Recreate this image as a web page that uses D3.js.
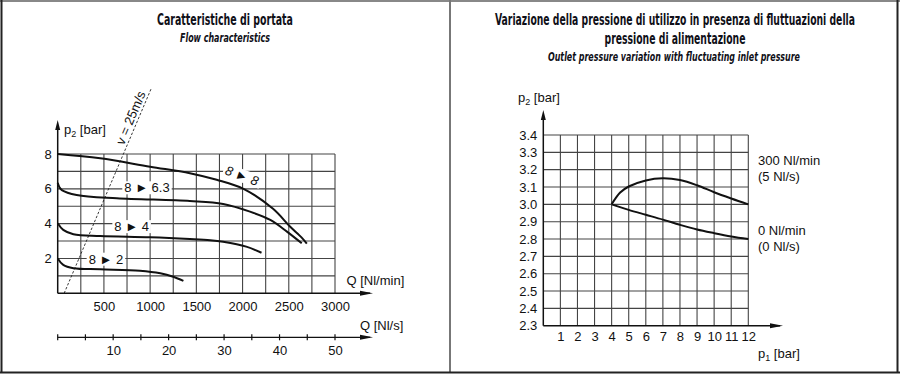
<!DOCTYPE html>
<html>
<head>
<meta charset="utf-8">
<script src="https://cdn.jsdelivr.net/npm/d3@7"></script>
<style>
  html, body { margin: 0; padding: 0; background: #fff; }
  svg { display: block; }
  .lbl { font-family: "Liberation Sans", Arial, sans-serif; font-size: 13px; fill: #111; }
  .ttl { font-family: "Liberation Sans Narrow", "DejaVu Sans Condensed", sans-serif; fill: #101018; }
</style>
</head>
<body>
<div id="chart"></div>
<script>
const width = 900;
const height = 374;

// ---- left chart: flow characteristics (Q in Nl/min, p2 in bar) ----
const flowQTicks = [500, 1000, 1500, 2000, 2500, 3000];
const flowPTicks = [2, 4, 6, 8];
const flowSecTicks = [10, 20, 30, 40, 50];

const q88 = [0, 460, 1000, 1430, 1720, 2010, 2330, 2510, 2640, 2695];
const p88 = [8, 7.75, 7.27, 6.9, 6.52, 6.0, 4.85, 3.85, 3.2, 2.85];

const q863 = [0, 20, 45, 205, 640, 1430, 1790, 2080, 2300, 2480, 2640];
const p863 = [6.35, 6.08, 5.93, 5.65, 5.46, 5.3, 5.13, 4.69, 4.21, 3.54, 2.87];

const q84 = [0, 60, 170, 460, 1000, 1430, 1650, 1790, 2040, 2205];
const p84 = [4.02, 3.64, 3.39, 3.29, 3.22, 3.12, 3.05, 2.96, 2.68, 2.33];

const q82 = [0, 60, 170, 460, 890, 1110, 1250, 1360];
const p82 = [2.0, 1.63, 1.44, 1.38, 1.3, 1.15, 0.95, 0.71];

const vLineQ = [70, 1015];
const vLineP = [0, 11.8];

// ---- right chart: outlet pressure vs inlet pressure ----
const p1Ticks = [1, 2, 3, 4, 5, 6, 7, 8, 9, 10, 11, 12];
const p2Ticks = [2.3, 2.4, 2.5, 2.6, 2.7, 2.8, 2.9, 3.0, 3.1, 3.2, 3.3, 3.4];

const p1Flow300 = [4, 4.5, 5, 6, 7, 8, 9, 10, 11, 12];
const p2Flow300 = [3.0, 3.068, 3.103, 3.138, 3.15, 3.14, 3.11, 3.07, 3.034, 3.0];

const p1Flow0 = [4, 5, 6, 7, 8, 9, 10, 11, 12];
const p2Flow0 = [3.0, 2.968, 2.94, 2.912, 2.882, 2.855, 2.834, 2.815, 2.8];

const svg = d3.select("#chart").append("svg")
    .attr("width", width)
    .attr("height", height);

// panel frames
svg.append("line").attr("x1", 0).attr("x2", width).attr("y1", 1).attr("y2", 1)
    .attr("stroke", "#888").attr("stroke-width", 2);
svg.append("line").attr("x1", 1.5).attr("x2", 1.5).attr("y1", 0).attr("y2", 373)
    .attr("stroke", "#222").attr("stroke-width", 2);
svg.append("line").attr("x1", 450).attr("x2", 450).attr("y1", 0).attr("y2", 373)
    .attr("stroke", "#777").attr("stroke-width", 2);
svg.append("line").attr("x1", 897.5).attr("x2", 897.5).attr("y1", 0).attr("y2", 373)
    .attr("stroke", "#222").attr("stroke-width", 2);
svg.append("line").attr("x1", 0).attr("x2", width).attr("y1", 372.5).attr("y2", 372.5)
    .attr("stroke", "#222").attr("stroke-width", 2);

// titles
function title(x, y, txt, len, size, italic) {
    svg.append("text").attr("class", "ttl")
        .attr("x", x).attr("y", y)
        .attr("text-anchor", "middle")
        .attr("font-size", size)
        .attr("font-weight", "bold")
        .attr("font-style", italic ? "italic" : null)
        .attr("textLength", len)
        .attr("lengthAdjust", "spacingAndGlyphs")
        .text(txt);
}
title(225, 25, "Caratteristiche di portata", 136, 15.5, false);
title(225, 41.5, "Flow characteristics", 90, 12, true);
title(675, 24.5, "Variazione della pressione di utilizzo in presenza di fluttuazioni della", 360, 15.5, false);
title(675, 44, "pressione di alimentazione", 141, 15.5, false);
title(674, 61, "Outlet pressure variation with fluctuating inlet pressure", 252, 12, true);

function arrowHead(g, x, y, dir) {
    // dir: "up" or "right"
    const pts = dir === "up"
        ? [[x, y], [x - 2.5, y + 10], [x + 2.5, y + 10]]
        : [[x, y], [x - 13, y - 2.5], [x - 13, y + 2.5]];
    g.append("path").attr("d", d3.line()(pts) + "Z").attr("fill", "#111");
}

function styleTicks(g) {
    g.select(".domain").remove();
    g.selectAll("text").attr("class", "lbl").attr("font-size", null).attr("font-family", null);
}

// ================= LEFT CHART =================
const L = svg.append("g");
const xL = d3.scaleLinear().domain([0, 3000]).range([57.7, 335]);
const yL = d3.scaleLinear().domain([0, 8]).range([293.3, 154]);
const xS = d3.scaleLinear().domain([0, 50]).range([57.7, 335]);

// grid
L.append("g").selectAll("line").data(d3.range(250, 3001, 250)).join("line")
    .attr("x1", d => xL(d)).attr("x2", d => xL(d))
    .attr("y1", yL(0)).attr("y2", yL(8))
    .attr("stroke", "#444").attr("stroke-width", 1.1);
L.append("g").selectAll("line").data(d3.range(1, 9)).join("line")
    .attr("x1", xL(0)).attr("x2", xL(3000))
    .attr("y1", d => yL(d)).attr("y2", d => yL(d))
    .attr("stroke", "#444").attr("stroke-width", 1.1);

// axes lines + arrows
L.append("line").attr("x1", xL(0)).attr("x2", 370).attr("y1", yL(0)).attr("y2", yL(0))
    .attr("stroke", "#111").attr("stroke-width", 1.5);
arrowHead(L, 373, yL(0), "right");
L.append("line").attr("x1", xL(0)).attr("x2", xL(0)).attr("y1", yL(0)).attr("y2", 128)
    .attr("stroke", "#111").attr("stroke-width", 1.5);
arrowHead(L, xL(0), 120, "up");

// tick labels
L.append("g").attr("transform", `translate(0,${yL(0)})`)
    .call(d3.axisBottom(xL).tickValues(flowQTicks).tickSize(0).tickPadding(8).tickFormat(d3.format("d")))
    .call(styleTicks);
L.append("g").attr("transform", `translate(${xL(0)},0)`)
    .call(d3.axisLeft(yL).tickValues(flowPTicks).tickSize(0).tickPadding(6))
    .call(styleTicks);

// second axis Nl/s
const yS = 337.3;
L.append("line").attr("x1", xS(0)).attr("x2", 370).attr("y1", yS).attr("y2", yS)
    .attr("stroke", "#111").attr("stroke-width", 1.3);
arrowHead(L, 373, yS, "right");
L.append("g").selectAll("line").data(d3.range(0, 51, 5)).join("line")
    .attr("x1", d => xS(d)).attr("x2", d => xS(d))
    .attr("y1", yS - 3).attr("y2", yS + 3)
    .attr("stroke", "#111").attr("stroke-width", 1.2);
L.append("g").attr("transform", `translate(0,${yS})`)
    .call(d3.axisBottom(xS).tickValues(flowSecTicks).tickSize(0).tickPadding(8))
    .call(styleTicks);

// axis titles
const pLab = L.append("text").attr("class", "lbl").attr("x", 64).attr("y", 134);
pLab.append("tspan").text("p");
pLab.append("tspan").attr("font-size", 9).attr("dy", 3).text("2");
pLab.append("tspan").attr("dy", -3).text(" [bar]");
L.append("text").attr("class", "lbl").attr("x", 346.5).attr("y", 284.5).text("Q [Nl/min]");
L.append("text").attr("class", "lbl").attr("x", 360).attr("y", 329.5).text("Q [Nl/s]");

// v = 25 m/s dashed line
L.append("line")
    .attr("x1", xL(vLineQ[0])).attr("y1", yL(vLineP[0]))
    .attr("x2", xL(vLineQ[1])).attr("y2", yL(vLineP[1]))
    .attr("stroke", "#222").attr("stroke-width", 0.9).attr("stroke-dasharray", "2.5,1.8");
{
    const ang = Math.atan2(yL(vLineP[1]) - yL(vLineP[0]), xL(vLineQ[1]) - xL(vLineQ[0])) * 180 / Math.PI;
    const t = 0.84;
    const cx = xL(vLineQ[0]) + t * (xL(vLineQ[1]) - xL(vLineQ[0]));
    const cy = yL(vLineP[0]) + t * (yL(vLineP[1]) - yL(vLineP[0]));
    L.append("text").attr("class", "lbl")
        .attr("transform", `translate(${cx},${cy}) rotate(${ang})`)
        .attr("text-anchor", "middle").attr("dy", -3)
        .attr("font-size", 14)
        .text("v = 25m/s");
}

// curves
const lineL = d3.line().x(d => xL(d[0])).y(d => yL(d[1])).curve(d3.curveCatmullRom.alpha(0.5));
[[q88, p88], [q863, p863], [q84, p84], [q82, p82]].forEach(([q, p]) => {
    L.append("path").datum(q.map((v, i) => [v, p[i]]))
        .attr("d", lineL).attr("fill", "none")
        .attr("stroke", "#111").attr("stroke-width", 2);
});

// curve labels with white backgrounds
function curveLabel(q, p, txt, rot, italic) {
    const g = L.append("g").attr("transform", `translate(${xL(q)},${yL(p)}) rotate(${rot})`);
    const t = g.append("text").attr("class", "lbl")
        .attr("text-anchor", "middle").attr("dy", "0.36em")
        .attr("font-size", 14)
        .attr("font-style", italic ? "italic" : null)
        .text(txt);
    const bb = t.node().getBBox();
    g.insert("rect", "text")
        .attr("x", bb.x - 2).attr("y", bb.y + 1)
        .attr("width", bb.width + 4).attr("height", bb.height - 2)
        .attr("fill", "#fff");
}
curveLabel(966, 6.07, "8 \u25BA 6.3", 0, false);
curveLabel(800, 3.84, "8 \u25BA 4", 0, false);
curveLabel(522, 1.97, "8 \u25BA 2", 0, false);
curveLabel(1994, 6.76, "8 \u25BA 8", 20, true);

// ================= RIGHT CHART =================
const R = svg.append("g");
const xR = d3.scaleLinear().domain([0, 12]).range([543.3, 748.3]);
const yR = d3.scaleLinear().domain([2.3, 3.4]).range([325.7, 135]);

R.append("g").selectAll("line").data(p1Ticks).join("line")
    .attr("x1", d => xR(d)).attr("x2", d => xR(d))
    .attr("y1", yR(2.3)).attr("y2", yR(3.4))
    .attr("stroke", "#444").attr("stroke-width", 1.1);
R.append("g").selectAll("line").data(p2Ticks.slice(1)).join("line")
    .attr("x1", xR(0)).attr("x2", xR(12))
    .attr("y1", d => yR(d)).attr("y2", d => yR(d))
    .attr("stroke", "#444").attr("stroke-width", 1.1);

R.append("line").attr("x1", xR(0)).attr("x2", 780).attr("y1", yR(2.3)).attr("y2", yR(2.3))
    .attr("stroke", "#111").attr("stroke-width", 1.5);
arrowHead(R, 783, yR(2.3), "right");
R.append("line").attr("x1", xR(0)).attr("x2", xR(0)).attr("y1", yR(2.3)).attr("y2", 118)
    .attr("stroke", "#111").attr("stroke-width", 1.5);
arrowHead(R, xR(0), 110, "up");

R.append("g").attr("transform", `translate(0,${yR(2.3)})`)
    .call(d3.axisBottom(xR).tickValues(p1Ticks).tickSize(0).tickPadding(6.5))
    .call(styleTicks);
R.append("g").attr("transform", `translate(${xR(0)},0)`)
    .call(d3.axisLeft(yR).tickValues(p2Ticks).tickSize(0).tickPadding(6).tickFormat(d3.format(".1f")))
    .call(styleTicks);

const p2Lab = R.append("text").attr("class", "lbl").attr("x", 518).attr("y", 102);
p2Lab.append("tspan").text("p");
p2Lab.append("tspan").attr("font-size", 9).attr("dy", 3).text("2");
p2Lab.append("tspan").attr("dy", -3).text(" [bar]");
const p1Lab = R.append("text").attr("class", "lbl").attr("x", 758).attr("y", 358);
p1Lab.append("tspan").text("p");
p1Lab.append("tspan").attr("font-size", 9).attr("dy", 3).text("1");
p1Lab.append("tspan").attr("dy", -3).text(" [bar]");

const lineR = d3.line().x(d => xR(d[0])).y(d => yR(d[1])).curve(d3.curveCatmullRom.alpha(0.5));
[[p1Flow300, p2Flow300], [p1Flow0, p2Flow0]].forEach(([a, b]) => {
    R.append("path").datum(a.map((v, i) => [v, b[i]]))
        .attr("d", lineR).attr("fill", "none")
        .attr("stroke", "#111").attr("stroke-width", 2);
});

R.append("text").attr("class", "lbl").attr("x", 758).attr("y", 165).text("300 Nl/min");
R.append("text").attr("class", "lbl").attr("x", 758).attr("y", 181).text("(5 Nl/s)");
R.append("text").attr("class", "lbl").attr("x", 758).attr("y", 235).text("0 Nl/min");
R.append("text").attr("class", "lbl").attr("x", 758).attr("y", 251).text("(0 Nl/s)");
</script>
</body>
</html>
